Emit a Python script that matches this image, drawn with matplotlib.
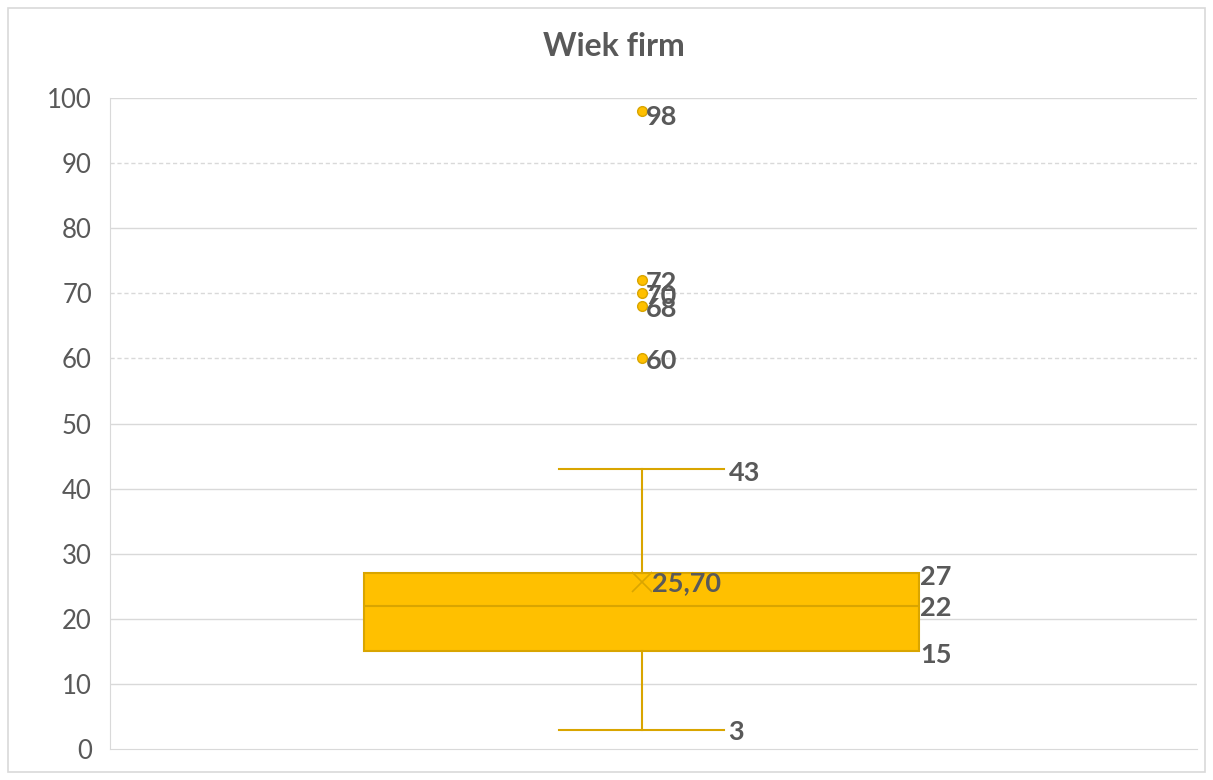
import matplotlib
matplotlib.use("Agg")
import matplotlib.pyplot as plt
from matplotlib.patches import Rectangle

plt.rcParams['font.family'] = ['Lato', 'DejaVu Sans']

title = "Wiek firm"
whisker_low = 3
q1 = 15
median = 22
q3 = 27
whisker_high = 43
mean = 25.70
outliers = [60, 68, 70, 72, 98]
yticks = [0, 10, 20, 30, 40, 50, 60, 70, 80, 90, 100]

fill = "#FFC000"
edge = "#D9A500"
txt = "#595959"

fig = plt.figure(figsize=(12.13, 7.80), dpi=100)
fig.patches.append(Rectangle((0.007, 0.01), 0.986, 0.98, transform=fig.transFigure,
                             fill=False, edgecolor="#D9D9D9", linewidth=1.2))
ax = fig.add_axes([0.0907, 0.0397, 0.8961, 0.8347])

stats = [dict(med=median, q1=q1, q3=q3, whislo=whisker_low, whishi=whisker_high,
              mean=mean, fliers=outliers, label="")]
ax.bxp(stats, positions=[1], widths=0.51, capwidths=0.152, patch_artist=True,
       showmeans=True, meanline=False,
       boxprops=dict(facecolor=fill, edgecolor=edge, linewidth=1.5),
       medianprops=dict(color=edge, linewidth=1.5),
       whiskerprops=dict(color=edge, linewidth=1.5),
       capprops=dict(color=edge, linewidth=1.5),
       flierprops=dict(marker='o', markerfacecolor=fill, markeredgecolor=edge,
                       markersize=7, linestyle='none'),
       meanprops=dict(marker='x', markeredgecolor=edge, markersize=15, markeredgewidth=1.2),
       zorder=3)

ax.set_xlim(1 - 0.489, 1 + 0.511)
ax.set_ylim(0, 100)
ax.set_yticks(yticks)
ax.set_yticklabels([str(v) for v in yticks], fontsize=18.5, color=txt)
ax.set_xticks([])
ax.tick_params(axis='y', length=0, pad=13)
for s in ['top', 'right']:
    ax.spines[s].set_visible(False)
ax.spines['left'].set_color("#D9D9D9")
ax.spines['bottom'].set_color("#D9D9D9")

dashed = {60, 70, 90}
for v in yticks[1:]:
    ax.axhline(v, color="#D9D9D9", linewidth=1.0,
               linestyle=(0, (3, 2)) if v in dashed else '-', zorder=0)

fs = 19.5
cap_r = 1 + 0.152 / 2 + 0.004
box_r = 1 + 0.51 / 2 + 0.001
kw = dict(fontsize=fs, fontweight='bold', color=txt, va='center', ha='left')
ax.text(cap_r, whisker_high - 0.6, f"{whisker_high}", **kw)
ax.text(cap_r, whisker_low - 0.4, f"{whisker_low}", **kw)
ax.text(box_r, q3 - 0.6, f"{q3}", **kw)
ax.text(box_r, median - 0.4, f"{median}", **kw)
ax.text(box_r, q1 - 0.5, f"{q1}", **kw)
ax.text(1.010, mean - 0.2, f"{mean:.2f}".replace('.', ','), **kw)
for o in outliers:
    ax.text(1.004, o - (1.0 if o == max(outliers) else 0.45), f"{o}", **kw)

fig.text(0.506, 0.94, title, fontsize=23, fontweight='bold', color=txt, ha='center', va='center')

fig.savefig("out.png", dpi=100)
